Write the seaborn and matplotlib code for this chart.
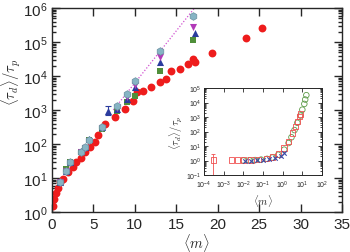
import matplotlib
matplotlib.use("Agg")
import matplotlib.pyplot as plt
import seaborn as sns
import pandas as pd
import numpy as np

# ---- main panel data ----
red_x = [0.1, 0.3, 0.5, 0.7, 1.0, 1.3, 1.9, 2.5, 2.9, 3.5, 4.0, 4.6, 5.2, 5.6, 6.4, 7.6, 8.8,
         9.8, 10.2, 11.0, 12.0, 13.0, 13.8, 14.4, 15.4, 16.4, 17.0, 17.2, 19.3, 23.4, 25.3]
red_y = [1.5, 2.4, 3.6, 5.2, 7.6, 9.5, 15, 21, 30, 40, 58, 80, 115, 190, 380, 630, 1070,
         1860, 3300, 3700, 4700, 6600, 7900, 14500, 16000, 22000, 32000, 26000, 48000, 135000, 250000]

grp_x = [1.0, 1.7, 2.2, 3.5, 4.0, 4.5, 6.0, 7.9, 9.0, 10.0, 13.0, 17.0]
cyan_y = [7.4, 16, 29, 60, 79, 132, 310, 1320, 2950, 7100, 56000, 575000]
magenta_y = [7.4, 16, 28, 59, 76, 126, 295, 1120, 2400, 5500, 35500, 270000]
blue_x = [1.0, 1.7, 2.2, 3.5, 4.0, 4.5, 6.0, 6.8, 7.9, 9.0, 10.0, 13.0, 17.25]
blue_y = [7.6, 16.6, 29.5, 63, 81, 138, 316, 950, 1050, 2100, 4600, 25000, 178000]
green_y = [7.1, 17.8, 30, 60, 76, 132, 280, 950, 1700, 2630, 14000, 117000]

err_x = [6.8]
err_y = [950]
err_lo = [250]
err_hi = [330]

fit_x = [7.4, 17.2]
fit_y = [1.0e3, 1.0e6]

# ---- inset data ----
in_red_x = [3e-4, 2.5e-3, 5e-3, 1e-2, 2.5e-2, 6e-2, 0.15, 0.3, 0.6, 1.2, 2.0, 3.2, 4.5, 5.6, 7.0, 8.0]
in_red_y = [1.07, 1.07, 1.07, 1.1, 1.12, 1.2, 1.4, 1.8, 2.8, 7, 20, 80, 220, 500, 1100, 1600]
in_err_x = [3e-4]
in_err_y = [1.07]
in_err_lo = [1.0]
in_err_hi = [1.75]
in_green_x = [1e-2, 2e-2, 4e-2, 8e-2, 0.16, 0.3, 0.6, 1.2, 2.0, 2.8, 4.0, 5.6, 8.0, 10, 12.6, 14, 16]
in_green_y = [1.0, 1.05, 1.07, 1.15, 1.3, 1.6, 2.5, 5.6, 16, 40, 125, 400, 1260, 3200, 8000, 16000, 32000]
in_blue_x = [1.2e-2, 2.5e-2, 5e-2, 0.1, 0.2, 0.4, 0.8, 1.2]
in_blue_y = [1.0, 1.0, 1.05, 1.1, 1.25, 1.6, 2.2, 3.5]

sns.set_style("ticks")
plt.rcParams['font.family'] = ['Liberation Sans', 'DejaVu Sans']
plt.rcParams['mathtext.fontset'] = 'cm'

RED = '#ee1c1c'
GREEN = '#4f8f3a'
BLUE = '#2b3c9e'
MAG = '#b23ab8'
CYAN = '#86b4c4'

fig = plt.figure(figsize=(3.5, 2.53), dpi=100)
ax = fig.add_axes([52/350, 1-213/253, 290/350, 204/253])

ax.plot(fit_x, fit_y, ls=(0, (1, 1.5)), color='#d050d0', lw=0.9, zorder=1)
sns.scatterplot(x=red_x, y=red_y, ax=ax, color=RED, marker='o', s=32, linewidth=0, zorder=2)
sns.scatterplot(x=grp_x, y=green_y, ax=ax, color=GREEN, marker='s', s=24, linewidth=0, zorder=3)
sns.scatterplot(x=blue_x, y=blue_y, ax=ax, color=BLUE, marker='^', s=26, linewidth=0, zorder=4)
sns.scatterplot(x=grp_x, y=magenta_y, ax=ax, color=MAG, marker='v', s=26, linewidth=0, zorder=5)
sns.scatterplot(x=grp_x, y=cyan_y, ax=ax, color=CYAN, marker='h', s=30, edgecolor='#6a8fa0',
                linewidth=0.5, zorder=6)
ax.errorbar(err_x, err_y, yerr=[err_lo, err_hi], fmt='none', ecolor=BLUE, elinewidth=0.8,
            capsize=2.5, capthick=0.8, zorder=4)

ax.set_yscale('log')
ax.set_xlim(0, 35)
ax.set_ylim(1, 1e6)
ax.set_xticks([0, 5, 10, 15, 20, 25, 30, 35])
ax.tick_params(which='both', direction='in', top=True, right=True, labelsize=11, width=1)
ax.tick_params(which='major', length=6)
ax.tick_params(which='minor', length=3)
for s in ax.spines.values():
    s.set_linewidth(1)
ax.set_xlabel(r'$\langle m\rangle$', fontsize=10.5, labelpad=0)
ax.set_ylabel(r'$\langle\tau_d\rangle/\tau_p$', fontsize=10.5)
ax.yaxis.set_label_coords(-0.10, 0.64)

# ---- inset ----
ins = fig.add_axes([204/350, 1-176/253, 118/350, 87/253])
sns.scatterplot(x=in_red_x, y=in_red_y, ax=ins, marker='s', s=16, facecolor='none',
                edgecolor='#f05050', linewidth=0.6, zorder=3)
sns.scatterplot(x=in_green_x, y=in_green_y, ax=ins, marker='o', s=16, facecolor='none',
                edgecolor='#5c9a48', linewidth=0.6, zorder=2)
sns.scatterplot(x=in_blue_x, y=in_blue_y, ax=ins, marker='x', s=10, color='#3a4aa8',
                linewidth=0.8, zorder=4)
ins.errorbar(in_err_x, in_err_y, yerr=[in_err_lo, in_err_hi], fmt='none', ecolor='#f05050',
             elinewidth=0.6, capsize=1.5, capthick=0.6)
ins.set_xscale('log')
ins.set_yscale('log')
ins.set_xlim(1e-4, 1e2)
ins.set_ylim(1e-1, 1e5)
ins.set_xticks([1e-4, 1e-3, 1e-2, 1e-1, 1e0, 1e1, 1e2])
ins.set_yticks([1e-1, 1e0, 1e1, 1e2, 1e3, 1e4, 1e5])
ins.tick_params(which='both', direction='in', top=True, right=True, labelsize=5, width=0.6)
ins.tick_params(axis='x', pad=3)
ins.tick_params(axis='y', pad=2)
ins.tick_params(which='major', length=3)
ins.tick_params(which='minor', length=1.5)
for s in ins.spines.values():
    s.set_linewidth(0.7)
ins.set_xlabel(r'$\langle m\rangle$', fontsize=7.5, labelpad=1)
ins.set_ylabel(r'$\langle\tau_d\rangle/\tau_p$', fontsize=7.5, labelpad=1)

fig.savefig('out.png', dpi=100)
